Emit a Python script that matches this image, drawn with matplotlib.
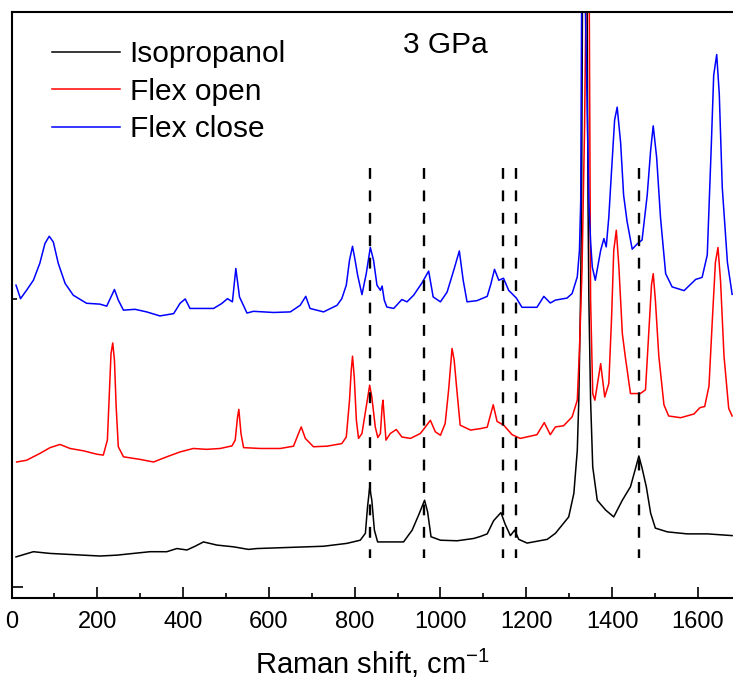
import matplotlib
matplotlib.use("Agg")
import matplotlib.pyplot as plt

plt.rcParams['font.family'] = ['Liberation Sans', 'DejaVu Sans']
plt.rcParams['mathtext.fontset'] = 'custom'
plt.rcParams['mathtext.rm'] = 'Liberation Sans'
plt.rcParams['mathtext.it'] = 'Liberation Sans:italic'
plt.rcParams['mathtext.bf'] = 'Liberation Sans:bold'

# ---------------- data (Raman shift in cm-1, intensity in offset a.u.) -------------
iso_x = [10.5, 51, 90, 129, 167.5, 206.5, 245.5, 284, 323, 362, 385.5, 409, 428, 447.5,
         479, 517.5, 552.5, 572, 650, 727.5, 782, 813, 825, 830, 835, 840, 846, 853.5,
         883, 914, 934, 949, 963, 970, 978, 1000, 1039, 1077.5, 1093, 1109, 1124, 1141,
         1151, 1163, 1173, 1182.5, 1202, 1249, 1268, 1299, 1311, 1319, 1322.5, 1326.5,
         1329, 1331, 1336, 1342, 1344, 1346, 1350, 1355, 1365.5, 1385, 1404, 1424, 1443,
         1455, 1462.5, 1470, 1480, 1490, 1501, 1529, 1575, 1622, 1680]
iso_y = [0.104, 0.122, 0.116, 0.113, 0.110, 0.107, 0.110, 0.116, 0.122, 0.122, 0.133,
         0.128, 0.141, 0.156, 0.145, 0.139, 0.130, 0.133, 0.137, 0.141, 0.151, 0.162,
         0.186, 0.278, 0.345, 0.301, 0.197, 0.156, 0.156, 0.156, 0.197, 0.249, 0.301,
         0.261, 0.174, 0.162, 0.160, 0.168, 0.175, 0.184, 0.230, 0.258, 0.217, 0.178,
         0.197, 0.165, 0.152, 0.165, 0.186, 0.243, 0.325, 0.475, 0.649, 0.997, 1.34,
         2.0, 3.0, 2.0, 1.34, 0.997, 0.649, 0.417, 0.301, 0.267, 0.243, 0.301, 0.348,
         0.413, 0.455, 0.413, 0.347, 0.256, 0.204, 0.191, 0.184, 0.184, 0.178]

open_x = [12, 35, 66.5, 90, 113, 136.5, 167.5, 199, 214, 223.5, 228, 232, 236, 240, 244,
          249, 261, 300, 331, 362, 393, 424, 455, 486.5, 514, 521.5, 527, 530, 535, 541,
          580, 626.5, 657.5, 669, 675.5, 685, 704, 735.5, 770, 780.5, 788, 792, 795, 799,
          804, 809, 817, 827, 835, 840, 848, 854, 860, 864, 866, 869, 873, 883, 897, 910,
          930, 953, 962.5, 976.5, 988, 1000, 1011, 1019, 1027, 1032, 1039, 1046, 1070,
          1093, 1109, 1123, 1132, 1147.5, 1167, 1186, 1225, 1242, 1256, 1268, 1287, 1307,
          1319, 1324, 1330, 1336, 1341, 1344, 1347, 1350, 1355, 1360, 1373.5, 1383,
          1392.5, 1399, 1404, 1410, 1416, 1424, 1431, 1443, 1455, 1466, 1478, 1486, 1492,
          1496, 1501, 1509, 1521, 1532, 1560, 1591, 1605, 1616, 1626, 1634, 1641, 1647,
          1653, 1661, 1672, 1680]
open_y = [0.434, 0.440, 0.464, 0.484, 0.495, 0.481, 0.473, 0.461, 0.458, 0.510, 0.672,
          0.811, 0.848, 0.788, 0.626, 0.487, 0.452, 0.443, 0.434, 0.452, 0.469, 0.481,
          0.478, 0.481, 0.490, 0.510, 0.591, 0.617, 0.533, 0.484, 0.481, 0.481, 0.489,
          0.533, 0.556, 0.516, 0.487, 0.489, 0.498, 0.521, 0.649, 0.753, 0.802, 0.730,
          0.579, 0.516, 0.533, 0.626, 0.701, 0.660, 0.556, 0.519, 0.533, 0.626, 0.649,
          0.591, 0.510, 0.533, 0.547, 0.521, 0.516, 0.533, 0.551, 0.579, 0.539, 0.527,
          0.568, 0.684, 0.829, 0.788, 0.672, 0.562, 0.545, 0.550, 0.555, 0.633, 0.575,
          0.562, 0.529, 0.516, 0.529, 0.571, 0.529, 0.556, 0.560, 0.591, 0.649, 0.823,
          1.1, 1.6, 2.3, 3.0, 2.0, 1.0, 0.672, 0.649, 0.776, 0.660, 0.707, 0.939, 1.170,
          1.240, 1.112, 0.881, 0.799, 0.672, 0.672, 0.672, 0.685, 0.894, 1.050, 1.089,
          0.998, 0.803, 0.633, 0.594, 0.588, 0.601, 0.623, 0.627, 0.698, 0.933, 1.128,
          1.180, 1.063, 0.803, 0.620, 0.594]

close_x = [10.5, 21, 35, 51, 66, 78, 88, 97.5, 109, 125, 144, 175, 206, 222, 240, 249,
           261, 288, 315, 346, 378, 393, 405, 416, 440, 471, 490, 503.5, 515, 523, 531.5,
           549, 564, 611, 650, 673, 686, 696, 727.5, 759, 770, 780.5, 788, 795, 801, 807,
           817, 827, 836.5, 844, 852, 860, 864, 869, 875, 891, 910, 922, 937.5, 957,
           972.5, 983, 1000, 1015.5, 1031, 1044, 1053, 1062, 1085, 1109, 1117, 1126, 1136,
           1147, 1159, 1177, 1190, 1225, 1241, 1256, 1268, 1295, 1307, 1319, 1324, 1327,
           1329, 1332, 1338, 1344, 1346, 1350, 1354, 1361, 1373.5, 1381, 1386.5, 1392.5,
           1399, 1406, 1412, 1420, 1427, 1435, 1447, 1459, 1470, 1482, 1490, 1496, 1504,
           1513, 1525, 1540, 1568, 1595, 1610, 1622, 1631, 1637, 1644, 1650, 1657, 1669,
           1680]
close_y = [1.049, 1.002, 1.031, 1.066, 1.125, 1.194, 1.219, 1.199, 1.125, 1.055, 1.014,
           0.986, 0.983, 0.976, 1.034, 0.997, 0.962, 0.965, 0.956, 0.942, 0.950, 0.986,
           1.001, 0.968, 0.968, 0.968, 0.985, 1.002, 0.991, 1.107, 1.008, 0.952, 0.958,
           0.954, 0.956, 0.979, 1.010, 0.968, 0.956, 0.979, 1.002, 1.049, 1.136, 1.184,
           1.136, 1.083, 1.016, 1.089, 1.180, 1.136, 1.049, 1.031, 1.046, 0.997, 0.973,
           0.968, 0.999, 0.991, 1.014, 1.057, 1.098, 1.008, 0.991, 1.025, 1.101, 1.168,
           1.066, 0.991, 0.995, 1.010, 1.050, 1.104, 1.066, 1.073, 1.031, 1.004, 0.972,
           0.972, 1.010, 0.987, 0.997, 1.004, 1.020, 1.078, 1.170, 1.34, 2.0, 3.0, 2.0,
           1.5, 1.34, 1.2, 1.112, 1.066, 1.170, 1.211, 1.182, 1.286, 1.45, 1.623, 1.668,
           1.545, 1.362, 1.271, 1.174, 1.193, 1.206, 1.362, 1.518, 1.603, 1.493, 1.284,
           1.089, 1.043, 1.030, 1.069, 1.076, 1.154, 1.518, 1.779, 1.851, 1.714, 1.388,
           1.128, 1.017]

series_labels = ['Isopropanol', 'Flex open', 'Flex close']
marker_lines = [836, 962, 1146, 1177, 1464]
pressure_label = '3 GPa'
x_ticks = [0, 200, 400, 600, 800, 1000, 1200, 1400, 1600]

# ---------------- figure ----------------
fig = plt.figure(figsize=(7.33, 6.88), dpi=100)
W, H = 733, 688
ax = fig.add_axes([11.5 / W, (H - 598) / H, 1 - 11.5 / W, (598 - 11.7) / H])

ax.plot(iso_x, iso_y, color='#000000', lw=1.1, label=series_labels[0])
ax.plot(open_x, open_y, color='#ff0000', lw=1.1, label=series_labels[1])
ax.plot(close_x, close_y, color='#0000ff', lw=1.1, label=series_labels[2])

for xv in marker_lines:
    ax.plot([xv, xv], [1.455, 0.10], color='black', lw=1.7,
            linestyle=(0, (4.6, 4.9)), zorder=5)

ax.set_xlim(0, 1682)
ax.set_ylim(-0.039, 2.0)
ax.set_xticks(x_ticks)
ax.set_xticks(range(100, 1700, 200), minor=True)
ax.set_yticks([0, 2])
ax.set_yticks([1], minor=True)
ax.set_yticklabels([])
ax.tick_params(axis='both', which='major', direction='in', length=8, width=1.2,
               labelsize=17, pad=9.5)
ax.tick_params(axis='both', which='minor', direction='in', length=3.5, width=1.2)
ax.tick_params(axis='y', which='both', left=True, right=False)
ax.tick_params(axis='x', which='both', top=False)
for s in ['left', 'bottom', 'top']:
    ax.spines[s].set_linewidth(1.5)
ax.spines['right'].set_visible(False)

ax.set_xlabel(r'Raman shift, cm$^{\mathrm{-1}}$', fontsize=21, labelpad=10)

leg = ax.legend(loc='upper left', bbox_to_anchor=(52 / W, 1 - 40 / H),
                bbox_transform=fig.transFigure, frameon=False, borderpad=0,
                borderaxespad=0, handlelength=2.27, handletextpad=0.33,
                labelspacing=0.32, fontsize=21.5)

fig.text(445 / W, 1 - 53 / H, pressure_label, ha='center', va='baseline', fontsize=21.5)

fig.savefig('out.png', dpi=100)
